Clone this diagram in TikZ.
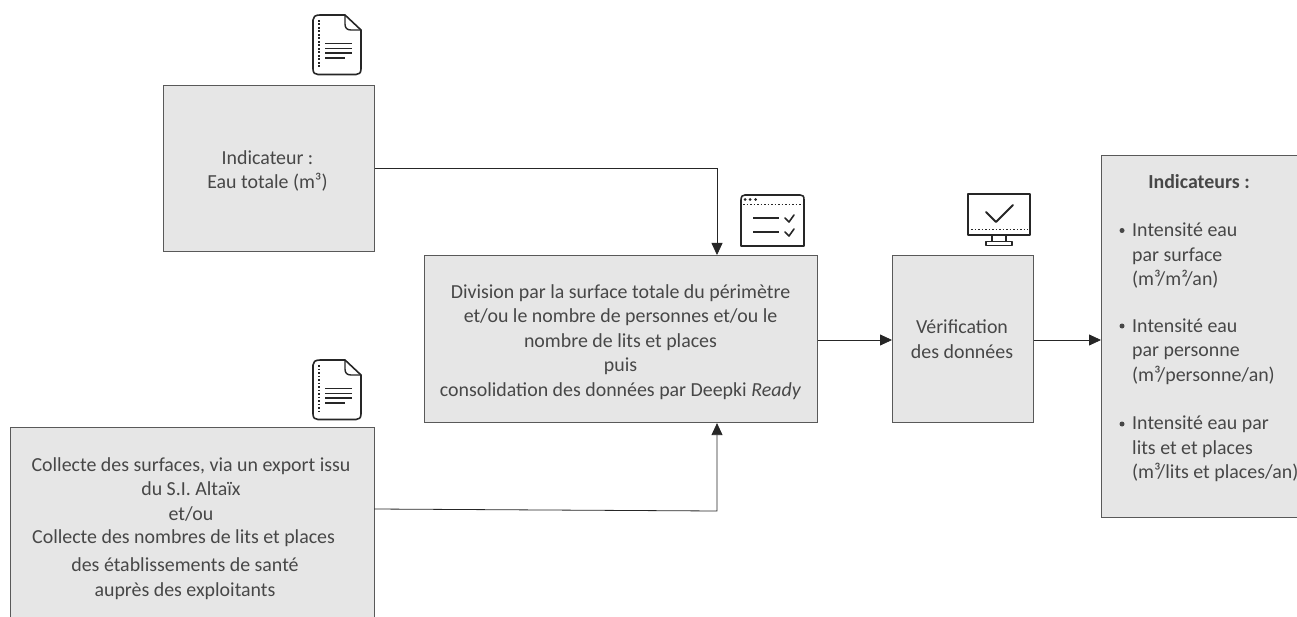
\documentclass[tikz,border=0pt]{standalone}
\usepackage{fontspec}
\setmainfont{Carlito}
\usetikzlibrary{arrows.meta}
\definecolor{boxfill}{HTML}{E6E6E6}
\definecolor{boxline}{HTML}{595959}
\definecolor{txt}{HTML}{474747}
\definecolor{ink}{HTML}{262626}
\tikzset{
  x=1pt,y=-1pt,
  box/.style={draw=boxline,fill=boxfill,line width=1.1pt,inner sep=0pt,anchor=north west},
  label/.style={text=txt,align=center,inner sep=0pt,font=\fontsize{19.9}{24.5}\selectfont},
  flow/.style={draw=ink,line width=0.8pt,-{Triangle[length=12pt,width=11pt]}},
  icon/.style={draw=ink,line width=1.6pt,line join=round,line cap=round},
  dots/.style={draw=ink,line width=1.7pt,dash pattern=on 1.6pt off 1.9pt},
}
\newcommand{\docicon}[2]{%
  \begin{scope}[shift={(#1,#2)}]
    \draw[icon] (7,0) -- (32,0) -- (48,15) -- (48,54) .. controls (48,58) and (46,59.5) .. (43,59.5) -- (5,59.5) .. controls (2,59.5) and (0,58) .. (0,54) -- (0,5) .. controls (0,2) and (2,0) .. (7,0);
    \draw[icon,line width=1.4pt] (32,0) -- (32,9) .. controls (32,13) and (34,15) .. (38,15) -- (48,15);
    \draw[dots] (6,5) -- (6,53);
    \draw[icon,line width=1.3pt,line cap=butt] (12,28.5) -- (39,28.5) (12,33.3) -- (39,33.3) (12,38) -- (39,38) (12,43) -- (32,43);
  \end{scope}}
\begin{document}
\begin{tikzpicture}
\useasboundingbox (0,0) rectangle (1297,617);
\clip (0,0) rectangle (1297,617);
\node[box,minimum width=211pt,minimum height=166pt] (top) at (163,85) {};
\node[label] (toptext) at (267.5,171) {Indicateur :\\Eau totale (m³)};
\node[box,minimum width=364pt,minimum height=210pt] (left) at (10,427) {};
\node[label,anchor=north] (lefta) at (191,457) {Collecte des surfaces, via un export issu\\du S.I. Altaïx\\et/ou};
\node[label,anchor=north west] (leftb) at (32,529) {Collecte des nombres de lits et places};
\node[label,anchor=north] (leftc) at (185,557.5) {des établissements de santé\\auprès des exploitants};
\node[box,minimum width=393pt,minimum height=167pt] (mid) at (424,255) {};
\node[label] (midtext) at (620.5,342) {Division par la surface totale du périmètre\\et/ou le nombre de personnes et/ou le\\nombre de lits et places\\puis\\consolidation des données par Deepki \textit{Ready}};
\node[box,minimum width=141pt,minimum height=167pt] (ver) at (892,255) {};
\node[label] (vertext) at (962,339) {Vérification\\des données};
\node[box,minimum width=210pt,minimum height=362pt] (res) at (1101,155) {};
\node[label,anchor=north,font=\fontsize{19.9}{24.5}\selectfont\bfseries] (restitle) at (1199,174) {Indicateurs :};
\node[label,anchor=north west,align=left] (resa) at (1132,223) {Intensité eau\\par surface\\(m³/m²/an)};
\node[label,anchor=north west,align=left] (resb) at (1132,318.5) {Intensité eau\\par personne\\(m³/personne/an)};
\node[label,anchor=north west,align=left] (resc) at (1132,416) {Intensité eau par\\lits et et places\\(m³/lits et places/an)};
\fill[txt] (1122,230.5) circle (2.5pt) (1122,326) circle (2.5pt) (1122,424) circle (2.5pt);
\coordinate (t1) at (717,168);
\coordinate (t0) at (top.east |- t1);
\coordinate (b0) at (374,509);
\coordinate (b1) at (717,511);
\draw[flow] (t0) -- (t1) -- (t1 |- mid.north);
\draw[flow] (b0) -- (b1) -- (b1 |- mid.south);
\coordinate (m) at (817,340);
\draw[flow] (mid.east |- m) -- (ver.west |- m);
\draw[flow] (ver.east |- m) -- (res.west |- m);
\docicon{313}{15}
\docicon{313}{360}
% checklist window
\draw[icon] (741,200) .. controls (741,196) and (743,195) .. (745,195) -- (800,195) .. controls (803,195) and (804,196) .. (804,200) -- (804,246) -- (741,246) -- cycle;
\draw[dots] (743,204.5) -- (803,204.5);
\fill[ink] (745,199.5) circle (1.5pt) (750,199.5) circle (1.5pt) (755.5,199.5) circle (1.5pt);
\draw[icon,line cap=butt,line width=1.2pt] (753,218) -- (779,218) (753,232) -- (779,232);
\draw[icon] (785,218) -- (789,222) -- (794,215) (785,232) -- (789,236) -- (794,229);
% monitor
\draw[icon] (968,194) -- (1030,194) -- (1030,235) -- (968,235) -- cycle;
\draw[dots] (971,229.5) -- (1028,229.5);
\draw[icon,line width=2pt] (986,212) -- (996,222) -- (1013,205);
\draw[icon] (992,235) -- (992,241) (1006,235) -- (1006,241) (986,245.5) -- (1012,245.5) -- (1012,241.5) -- (986,241.5) -- cycle;
\end{tikzpicture}
\end{document}
